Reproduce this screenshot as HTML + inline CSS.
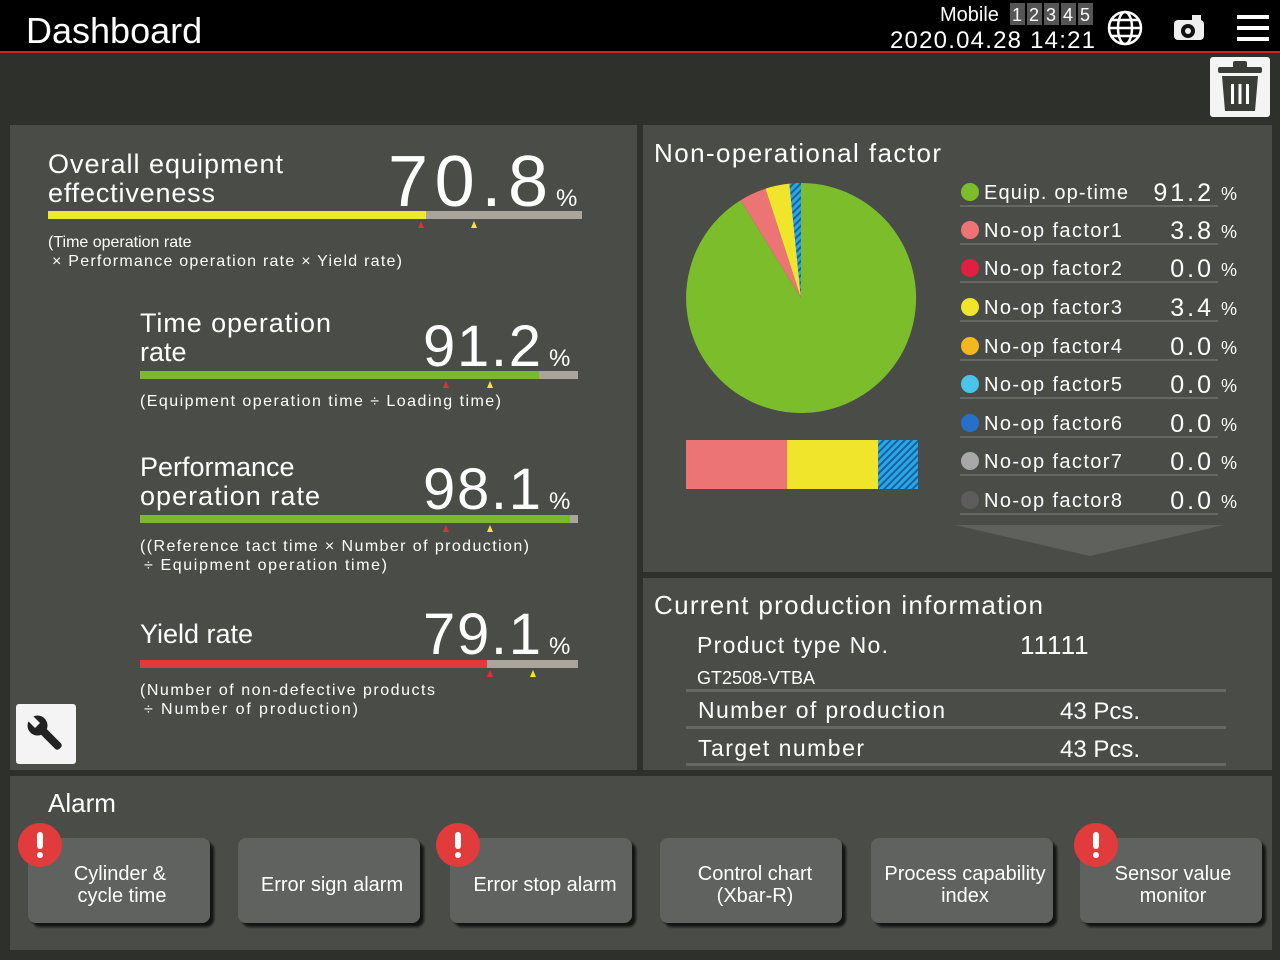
<!DOCTYPE html>
<html><head><meta charset="utf-8"><style>
html,body{margin:0;padding:0;background:#2e302c;}
svg{display:block}
text{font-family:"Liberation Sans",sans-serif;fill:#fff}
</style></head><body>
<svg width="1280" height="960" viewBox="0 0 1280 960" xmlns="http://www.w3.org/2000/svg">
<defs>
<pattern id="hatch" width="5" height="5" patternUnits="userSpaceOnUse" patternTransform="rotate(-45)">
<rect width="5" height="5" fill="#2aa8e0"/><rect width="5" height="2" fill="#1a5fa8"/>
</pattern>
<filter id="sh"><feDropShadow dx="4" dy="4" stdDeviation="1" flood-color="#111" flood-opacity="0.9"/></filter>
</defs>
<rect width="1280" height="960" fill="#2e302c"/>
<!-- header -->
<rect x="0" y="0" width="1280" height="52" fill="#000"/>
<rect x="0" y="51" width="1280" height="2" fill="#d42020"/>
<text x="26" y="43" font-size="36">Dashboard</text>
<text x="940" y="21" font-size="20" fill="#ddd">Mobile</text>
<g font-size="18" fill="#bbb">
<rect x="1010" y="3" width="15" height="22" fill="#555"/><text x="1012" y="21" fill="#aaa">1</text>
<rect x="1027" y="3" width="15" height="22" fill="#555"/><text x="1029" y="21" fill="#aaa">2</text>
<rect x="1044" y="3" width="15" height="22" fill="#555"/><text x="1046" y="21" fill="#aaa">3</text>
<rect x="1061" y="3" width="15" height="22" fill="#555"/><text x="1063" y="21" fill="#aaa">4</text>
<rect x="1078" y="3" width="15" height="22" fill="#555"/><text x="1080" y="21" fill="#aaa">5</text>
</g>
<text x="890" y="48" font-size="24" textLength="205">2020.04.28  14:21</text>
<g stroke="#fff" stroke-width="2.5" fill="none">
<circle cx="1125" cy="28" r="16"/><ellipse cx="1125" cy="28" rx="7" ry="16"/>
<line x1="1109" y1="28" x2="1141" y2="28"/><line x1="1112" y1="20" x2="1138" y2="20"/><line x1="1112" y1="36" x2="1138" y2="36"/>
</g>
<rect x="1174" y="20" width="30" height="20" rx="4" fill="#eee"/>
<rect x="1192" y="15" width="9" height="6" fill="#eee"/>
<circle cx="1188" cy="31" r="7" fill="#111"/><circle cx="1188" cy="31" r="3" fill="#eee"/>
<rect x="1237" y="15" width="32" height="4" fill="#fff"/><rect x="1237" y="26" width="32" height="4" fill="#fff"/><rect x="1237" y="37" width="32" height="4" fill="#fff"/>
<!-- toolbar -->
<rect x="0" y="53" width="1280" height="70" fill="#2e302c"/>
<rect x="1210" y="57" width="60" height="60" rx="3" fill="#f4f4f4"/>
<rect x="1218" y="67" width="44" height="6" rx="2" fill="#3a3c38"/>
<rect x="1233" y="61" width="14" height="7" rx="2" fill="#3a3c38"/>
<path d="M1222 76 H1258 L1255 111 H1225 Z" fill="#3a3c38"/>
<rect x="1231" y="84" width="3" height="20" fill="#fff"/><rect x="1238.5" y="84" width="3" height="20" fill="#fff"/><rect x="1246" y="84" width="3" height="20" fill="#fff"/>
<!-- panels -->
<rect x="10" y="125" width="627" height="645" fill="#4a4c48"/>
<rect x="643" y="125" width="629" height="447" fill="#4a4c48"/>
<rect x="643" y="578" width="629" height="192" fill="#4a4c48"/>
<rect x="10" y="776" width="1262" height="174" fill="#4a4c48"/>

<!-- OEE -->
<text x="48" y="173" font-size="27" textLength="235">Overall equipment</text>
<text x="48" y="202" font-size="27" textLength="167">effectiveness</text>
<text x="388" y="206" font-size="72" fill="#f0e830" textLength="160" lengthAdjust="spacing">70.8</text>
<text x="556" y="206" font-size="24" fill="#eee">%</text>
<rect x="48" y="211" width="534" height="8" fill="#a9a59c"/><rect x="48" y="211" width="378" height="8" fill="#f0e830"/>
<path d="M418 228 L421 221 L424 228Z" fill="#e03030"/><path d="M471 228 L474 221 L477 228Z" fill="#f0e830"/>
<text x="48" y="247" font-size="16" fill="#e8e8e8">(Time operation rate</text>
<text x="52" y="266" font-size="16" fill="#e8e8e8" textLength="350"> × Performance operation rate × Yield rate)</text>

<!-- Time op -->
<text x="140" y="332" font-size="27" textLength="191">Time operation</text>
<text x="140" y="361" font-size="27">rate</text>
<text x="423" y="366" font-size="58" fill="#7ab82e" textLength="118" lengthAdjust="spacing">91.2</text>
<text x="549" y="366" font-size="24" fill="#eee">%</text>
<rect x="140" y="371" width="438" height="8" fill="#a9a59c"/><rect x="140" y="371" width="399" height="8" fill="#7ab82e"/>
<path d="M443 388 L446 381 L449 388Z" fill="#e03030"/><path d="M487 388 L490 381 L493 388Z" fill="#f0e830"/>
<text x="140" y="406" font-size="16" fill="#e8e8e8" textLength="361">(Equipment operation time ÷ Loading time)</text>

<!-- Performance -->
<text x="140" y="476" font-size="27">Performance</text>
<text x="140" y="505" font-size="27" textLength="180">operation rate</text>
<text x="423" y="509" font-size="58" fill="#7ab82e" textLength="118" lengthAdjust="spacing">98.1</text>
<text x="549" y="509" font-size="24" fill="#eee">%</text>
<rect x="140" y="515" width="438" height="8" fill="#a9a59c"/><rect x="140" y="515" width="430" height="8" fill="#7ab82e"/>
<path d="M443 532 L446 525 L449 532Z" fill="#e03030"/><path d="M487 532 L490 525 L493 532Z" fill="#f0e830"/>
<text x="140" y="551" font-size="16" fill="#e8e8e8" textLength="389">((Reference tact time × Number of production)</text>
<text x="144" y="570" font-size="16" fill="#e8e8e8" textLength="243"> ÷ Equipment operation time)</text>

<!-- Yield -->
<text x="140" y="643" font-size="27">Yield rate</text>
<text x="423" y="654" font-size="58" fill="#e03a3a" textLength="118" lengthAdjust="spacing">79.1</text>
<text x="549" y="654" font-size="24" fill="#eee">%</text>
<rect x="140" y="660" width="438" height="8" fill="#a9a59c"/><rect x="140" y="660" width="347" height="8" fill="#e03a3a"/>
<path d="M487 677 L490 670 L493 677Z" fill="#e03030"/><path d="M530 677 L533 670 L536 677Z" fill="#f0e830"/>
<text x="140" y="695" font-size="16" fill="#e8e8e8" textLength="295">(Number of non-defective products</text>
<text x="144" y="714" font-size="16" fill="#e8e8e8" textLength="214"> ÷ Number of production)</text>

<!-- wrench -->
<rect x="16" y="704" width="60" height="60" rx="3" fill="#f4f4f4"/>
<g transform="translate(46,734) rotate(-45)">
<rect x="-4" y="-6" width="8" height="26" rx="3" fill="#222"/>
<circle cx="0" cy="-12" r="10" fill="#222"/>
<rect x="-3.5" y="-24" width="7" height="12" fill="#f4f4f4"/>
</g>

<!-- Non-op factor -->
<text x="654" y="162" font-size="26" textLength="287">Non-operational factor</text>
<path d="M801,298 L801,183 A115,115 0 1 1 740.6,200.2 Z" fill="#7bbd2b"/>
<path d="M801,298 L740.6,200.2 A115,115 0 0 1 765.5,188.6 Z" fill="#ec7474"/>
<path d="M801,298 L765.5,188.6 A115,115 0 0 1 789.4,183.6 Z" fill="#f1e52c"/>
<path d="M801,298 L789.4,183.6 A115,115 0 0 1 801,183 Z" fill="url(#hatch)"/>
<rect x="686" y="440" width="101" height="49" fill="#ec7474"/>
<rect x="787" y="440" width="91" height="49" fill="#f1e52c"/>
<rect x="878" y="440" width="40" height="49" fill="url(#hatch)"/>

<g font-size="20" fill="#eee">
<circle cx="970" cy="192" r="9" fill="#7bbd2b"/><text x="984" y="199" textLength="144">Equip. op-time</text><text x="1214" y="201" font-size="25" text-anchor="end" letter-spacing="3">91.2</text>
<circle cx="970" cy="230" r="9" fill="#ec7474"/><text x="984" y="237" textLength="138">No-op factor1</text><text x="1214" y="239" font-size="25" text-anchor="end" letter-spacing="3">3.8</text>
<circle cx="970" cy="268" r="9" fill="#e02040"/><text x="984" y="275" textLength="138">No-op factor2</text><text x="1214" y="277" font-size="25" text-anchor="end" letter-spacing="3">0.0</text>
<circle cx="970" cy="307" r="9" fill="#f1e52c"/><text x="984" y="314" textLength="138">No-op factor3</text><text x="1214" y="316" font-size="25" text-anchor="end" letter-spacing="3">3.4</text>
<circle cx="970" cy="346" r="9" fill="#f2b81e"/><text x="984" y="353" textLength="138">No-op factor4</text><text x="1214" y="355" font-size="25" text-anchor="end" letter-spacing="3">0.0</text>
<circle cx="970" cy="384" r="9" fill="#4ac4e8"/><text x="984" y="391" textLength="138">No-op factor5</text><text x="1214" y="393" font-size="25" text-anchor="end" letter-spacing="3">0.0</text>
<circle cx="970" cy="423" r="9" fill="#2670c8"/><text x="984" y="430" textLength="138">No-op factor6</text><text x="1214" y="432" font-size="25" text-anchor="end" letter-spacing="3">0.0</text>
<circle cx="970" cy="461" r="9" fill="#a8a8a8"/><text x="984" y="468" textLength="138">No-op factor7</text><text x="1214" y="470" font-size="25" text-anchor="end" letter-spacing="3">0.0</text>
<circle cx="970" cy="500" r="9" fill="#5c5d5c"/><text x="984" y="507" textLength="138">No-op factor8</text><text x="1214" y="509" font-size="25" text-anchor="end" letter-spacing="3">0.0</text>
</g>
<g font-size="18" fill="#eee">
<text x="1221" y="200">%</text><text x="1221" y="238">%</text><text x="1221" y="276">%</text><text x="1221" y="315">%</text><text x="1221" y="354">%</text><text x="1221" y="392">%</text><text x="1221" y="431">%</text><text x="1221" y="469">%</text><text x="1221" y="508">%</text>
</g>
<g fill="#666963">
<rect x="960" y="205" width="258" height="2"/><rect x="960" y="243" width="258" height="2"/><rect x="960" y="281" width="258" height="2"/><rect x="960" y="320" width="258" height="2"/><rect x="960" y="359" width="258" height="2"/><rect x="960" y="397" width="258" height="2"/><rect x="960" y="436" width="258" height="2"/><rect x="960" y="474" width="258" height="2"/><rect x="960" y="513" width="258" height="2"/>
</g>
<path d="M955 525 L1224 525 L1090 556 Z" fill="#5e615c"/>

<!-- production info -->
<text x="654" y="614" font-size="26" textLength="389">Current production information</text>
<text x="697" y="653" font-size="23" fill="#eee" textLength="191">Product type No.</text>
<text x="1020" y="654" font-size="26" fill="#eee" letter-spacing="1">11111</text>
<text x="697" y="684" font-size="18" fill="#eee">GT2508-VTBA</text>
<rect x="686" y="689" width="540" height="3" fill="#666963"/>
<text x="698" y="718" font-size="23" fill="#eee" textLength="247">Number of production</text>
<text x="1060" y="719" font-size="24" fill="#eee">43 Pcs.</text>
<rect x="686" y="726" width="540" height="3" fill="#666963"/>
<text x="698" y="756" font-size="23" fill="#eee" textLength="166">Target number</text>
<text x="1060" y="757" font-size="24" fill="#eee">43 Pcs.</text>
<rect x="686" y="763" width="540" height="3" fill="#666963"/>

<!-- alarm -->
<text x="48" y="812" font-size="26">Alarm</text>
<g fill="#5f625e" filter="url(#sh)">
<rect x="28" y="838" width="182" height="85" rx="8"/>
<rect x="238" y="838" width="182" height="85" rx="8"/>
<rect x="450" y="838" width="182" height="85" rx="8"/>
<rect x="660" y="838" width="182" height="85" rx="8"/>
<rect x="871" y="838" width="182" height="85" rx="8"/>
<rect x="1080" y="838" width="182" height="85" rx="8"/>
</g>
<g font-size="20" fill="#eee" text-anchor="middle">
<text x="120" y="880">Cylinder &amp;</text><text x="122" y="902">cycle time</text>
<text x="332" y="891">Error sign alarm</text>
<text x="545" y="891">Error stop alarm</text>
<text x="755" y="880">Control chart</text><text x="755" y="902">(Xbar-R)</text>
<text x="965" y="880">Process capability</text><text x="965" y="902">index</text>
<text x="1173" y="880">Sensor value</text><text x="1173" y="902">monitor</text>
</g>
<g>
<circle cx="40" cy="845" r="22" fill="#e23b3b"/><rect x="37" y="832" width="6" height="17" rx="3" fill="#fff"/><circle cx="40" cy="855" r="3" fill="#fff"/>
<circle cx="458" cy="845" r="22" fill="#e23b3b"/><rect x="455" y="832" width="6" height="17" rx="3" fill="#fff"/><circle cx="458" cy="855" r="3" fill="#fff"/>
<circle cx="1096" cy="845" r="22" fill="#e23b3b"/><rect x="1093" y="832" width="6" height="17" rx="3" fill="#fff"/><circle cx="1096" cy="855" r="3" fill="#fff"/>
</g>
</svg>
</body></html>
